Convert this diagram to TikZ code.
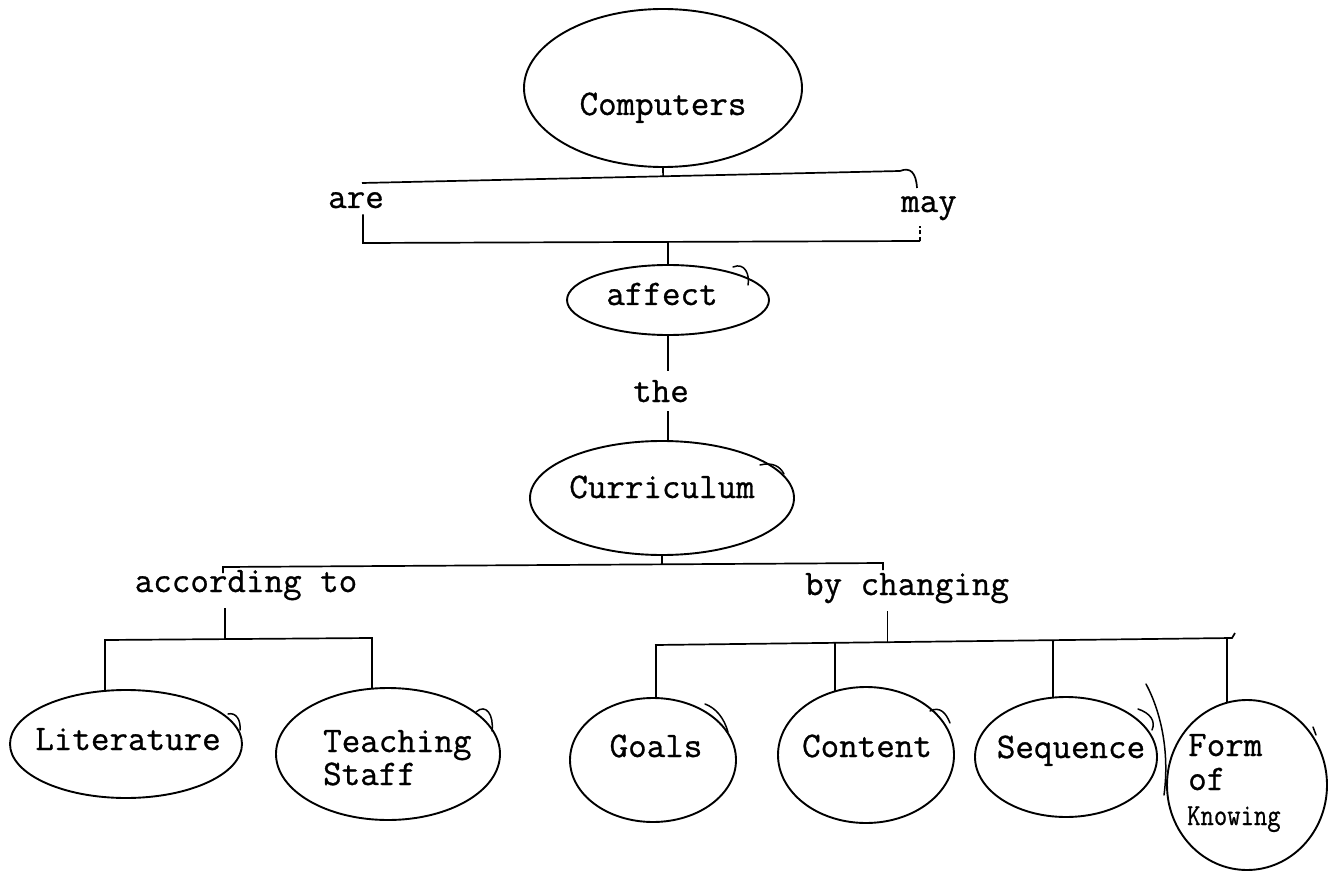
\documentclass[tikz,border=0pt]{standalone}
\usepackage{fontspec}
\usepackage{graphicx}
\setmonofont[FakeBold=0.8]{Latin Modern Mono}
\usetikzlibrary{shapes.geometric,calc}
\tikzset{
  bubble/.style={ellipse, draw, line width=1.9pt, inner sep=0pt},
  word/.style={font=\ttfamily\fontsize{36}{40}\selectfont, inner sep=0pt, anchor=base},
  tag/.style={word, inner sep=6pt},
  link/.style={line width=1.7pt},
  stroke/.style={line width=1.5pt, line cap=round},
}
\begin{document}
\begin{tikzpicture}[x=1pt,y=-1pt]
\fill[white] (0,0) rectangle (1338,874);
\useasboundingbox (0,0) rectangle (1338,874);

% concept bubbles
\node[bubble, minimum width=278pt, minimum height=158pt] (comp) at (663,88) {};
\node[bubble, minimum width=202pt, minimum height=70pt] (affect) at (668,300) {};
\node[bubble, minimum width=264pt, minimum height=114pt] (curr) at (662,498) {};
\node[bubble, minimum width=232pt, minimum height=108pt] (lit) at (126,744) {};
\node[bubble, minimum width=224pt, minimum height=132pt] (teach) at (388,754) {};
\node[bubble, minimum width=166pt, minimum height=124pt] (goals) at (653,760) {};
\node[bubble, minimum width=176pt, minimum height=136pt] (content) at (866,755) {};
\node[bubble, minimum width=182pt, minimum height=120pt] (seq) at (1066,757) {};
\node[bubble, minimum width=160pt, minimum height=170pt] (form) at (1247,785) {};

% bubble texts
\node[word] (tComp) at (663,115) {Computers};
\node[word] (tAffect) at (662,305) {affect};
\node[word] (tCurr) at (662,498) {Curriculum};
\node[word] (tLit) at (128,750) {Literature};
\node[word, anchor=base west] (tTeach) at (323,752) {Teaching};
\node[word, anchor=base west] (tStaff) at (323,785) {Staff};
\node[word] (tGoals) at (656,757) {Goals};
\node[word] (tContent) at (867,757) {Content};
\node[word] (tSeq) at (1071,758) {Sequence};
\node[word, anchor=base west] (tForm) at (1188,756) {Form};
\node[word, anchor=base west] (tOf) at (1188,790) {of};
\node[word, anchor=base west] (tKnow) at (1187,825) {\scalebox{0.72}[0.85]{Knowing}};

% linking words
\node[tag] (are) at (356,208) {are};
\node[tag] (may) at (929,212) {may};
\node[tag, inner sep=9pt] (the) at (661,402) {the};
\node[tag, inner sep=8pt] (accto) at (246,592) {according to};
\node[tag, inner sep=8pt] (bychanging) at (907,595) {by changing};

% Computers -> are / may -> affect
\coordinate (tl) at (362,183);
\coordinate (tr) at (900,171);
\coordinate (bl) at (363,243);
\coordinate (br) at (920,241);
\draw[link] (tl) -- (tr) .. controls (910,167) and (916,172) .. (917,188);
\draw[link] (comp.south) -- ($(tl)!(comp.south)!(tr)$);
\draw[link] (are.south -| bl) -- (bl) -- (br);
\draw[link, dash pattern=on 4pt off 2.5pt] (br) -- (br |- may.south);
\draw[link] ($(bl)!(affect.north)!(br)$) -- (affect.north);

% affect -> the -> Curriculum
\draw[link] (affect.south) -- (affect.south |- the.north);
\draw[link] (the.south -| affect.south) -- (curr.north -| affect.south);

% Curriculum -> according to / by changing
\coordinate (ml) at (223,567);
\coordinate (mr) at (883,563);
\draw[link] ($(ml)+(0,6)$) -- (ml) -- (mr) -- ($(mr)+(0,7)$);
\draw[link] (curr.south) -- ($(ml)!(curr.south)!(mr)$);

% according to -> Literature / Teaching Staff
\coordinate (ll) at (105,640);
\coordinate (lr) at (372,638);
\coordinate (lj) at ($(ll)!0.45!(lr)$);
\draw[link] (lj |- accto.south) -- (lj);
\draw[link] (ll |- lit.112) -- (ll) -- (lr) -- (lr |- teach.104);

% by changing -> Goals / Content / Sequence / Form of Knowing
\coordinate (rl) at (655,645);
\coordinate (rr) at (1232,638);
\coordinate (rj) at ($(rl)!0.403!(rr)$);
\coordinate (dg) at ($(rl)!0.002!(rr)$);
\coordinate (dc) at ($(rl)!0.312!(rr)$);
\coordinate (ds) at ($(rl)!0.690!(rr)$);
\coordinate (df) at ($(rl)!0.991!(rr)$);
\draw[link] (rj |- bychanging.south) -- (rj);
\draw[link] (rl) -- (rr) -- ($(rr)+(3,-5)$);
\draw[link] (dg) -- (dg |- goals.north);
\draw[link] (dc) -- (dc |- content.116);
\draw[link] (ds) -- (ds |- seq.102);
\draw[link] (df) -- (df |- form.104);

% pen overstrokes on the bubbles
\draw[stroke] (733,267) .. controls (745,262) and (750,275) .. (748,285);
\draw[stroke] (760,465) .. controls (772,462) and (780,466) .. (784,474);
\draw[stroke] (228,714) .. controls (236,712) and (241,720) .. (240,730);
\draw[stroke] (476,712) .. controls (486,703) and (494,715) .. (492,731);
\draw[stroke] (705,704) .. controls (716,708) and (724,718) .. (728,732);
\draw[stroke] (930,711) .. controls (940,706) and (946,713) .. (950,723);
\draw[stroke] (1138,709) .. controls (1150,713) and (1156,721) .. (1152,730);
\draw[stroke] (1146,684) .. controls (1160,710) and (1170,750) .. (1164,795);
\draw[stroke] (1313,727) -- (1316,735);
\end{tikzpicture}
\end{document}
